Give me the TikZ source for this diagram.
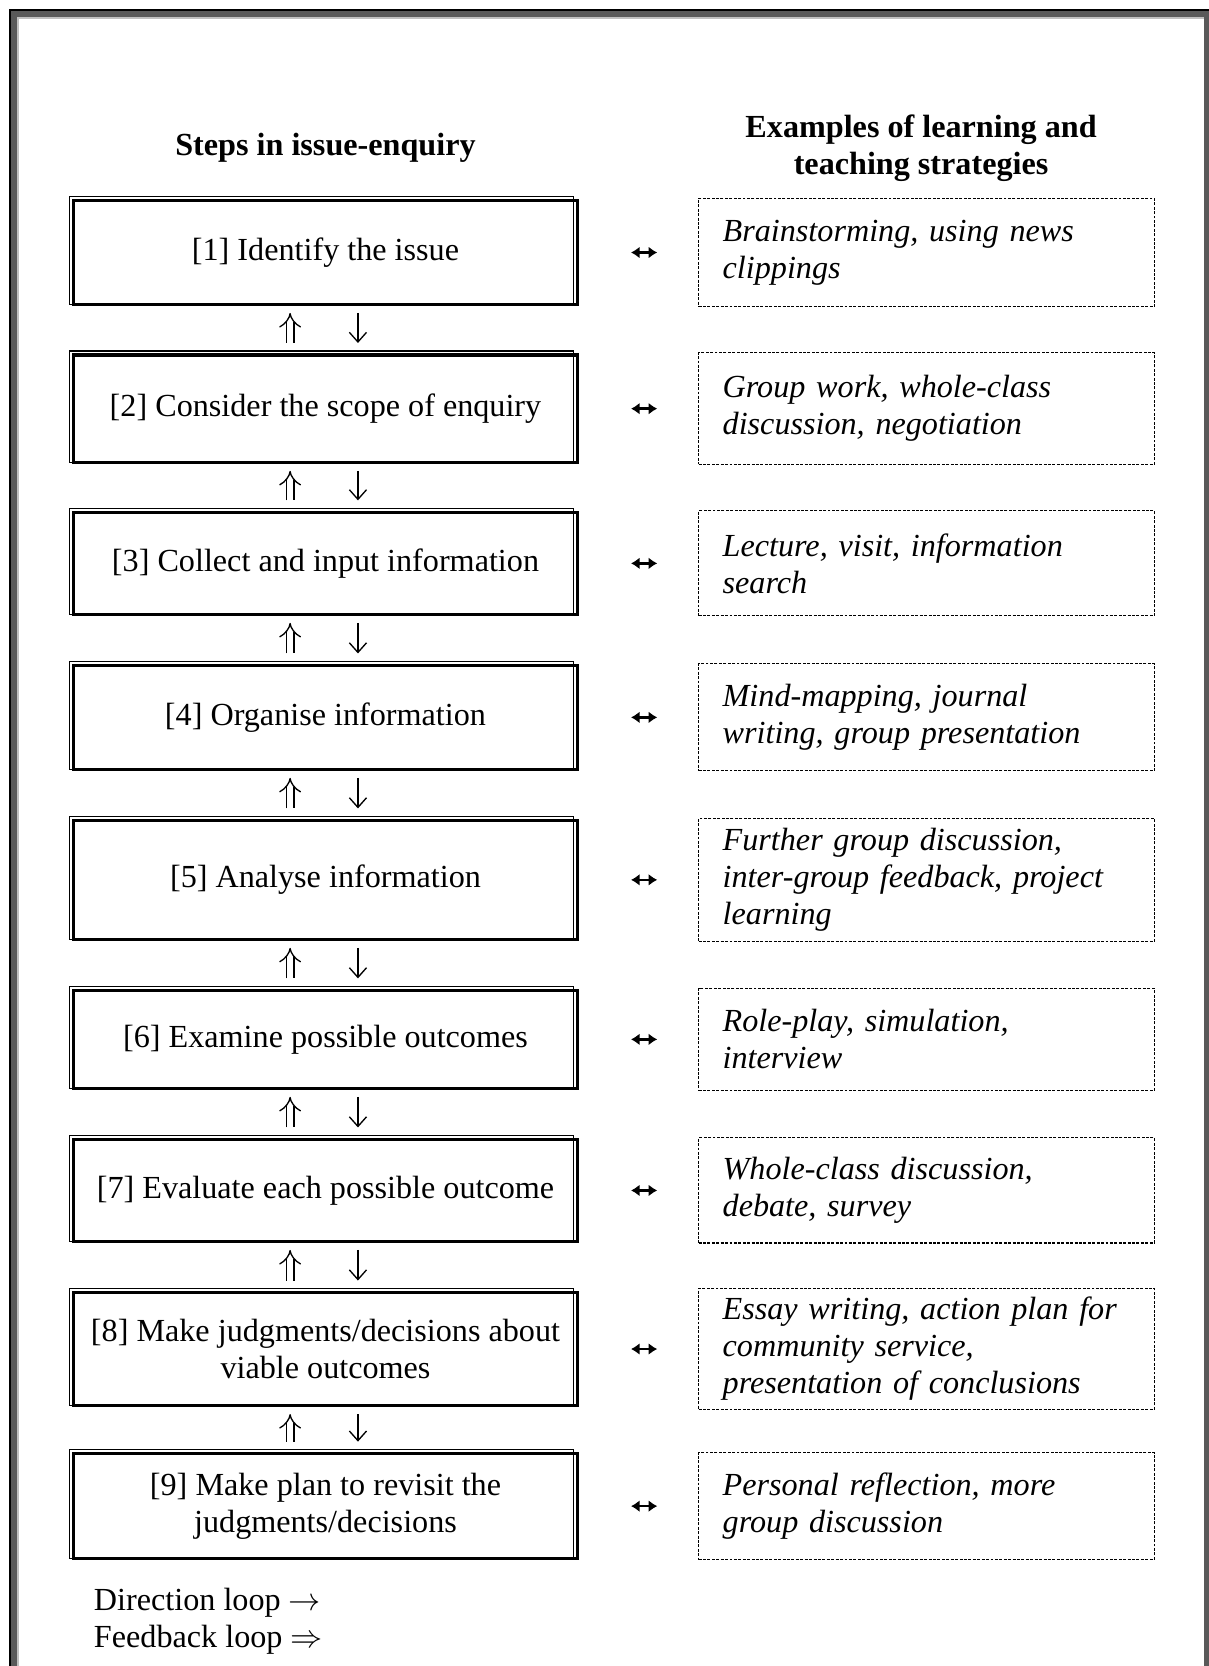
\documentclass[tikz,border=0pt]{standalone}
\usepackage{fontspec}
\setmainfont{Liberation Serif}
\usetikzlibrary{positioning, arrows.meta}

\definecolor{frameshade}{RGB}{89,89,89}
\definecolor{framelight}{RGB}{192,192,192}

\begin{document}
\begin{tikzpicture}[x=0.373pt, y=-0.373pt,
    stepbox/.style={draw, line width=1.2pt, outer sep=0pt, minimum width=187.9pt, align=center, font=\fontsize{12pt}{13.8pt}\selectfont,
        append after command={\pgfextra{\draw[line width=0.45pt] ([shift={(-1.5pt,1.5pt)}]\tikzlastnode.north west) rectangle ([xshift=-1.5pt]\tikzlastnode.south east);}}},
    ideabox/.style={draw, dash pattern=on 1.1pt off 0.55pt, line width=0.4pt, outer sep=0pt, minimum width=170pt, text width=152pt, inner xsep=9pt, align=left, font=\fontsize{12pt}{13.8pt}\selectfont\itshape},
    heading/.style={inner sep=0pt, align=center, font=\fontsize{12pt}{13.8pt}\selectfont\bfseries},
    pairing/.style={{Latex[length=3.2pt,width=4.4pt]}-{Latex[length=3.2pt,width=4.4pt]}, line width=1pt, shorten <=20pt, shorten >=15.4pt},
    dirloop/.style={-{Straight Barb[length=3.6pt,width=6.4pt]}, line width=0.5pt, shorten <=3.2pt, shorten >=4.5pt},
    fbloop/.style={double, double distance=2.4pt, line width=0.5pt, -{Implies}, shorten <=4.5pt, shorten >=3.2pt}]

    % Page frame
    \useasboundingbox (0,0) rectangle (1209,1666);
    \fill[black] (9,9) rectangle (1209,1700);
    \fill[frameshade] (11,11) rectangle (1209,1700);
    \fill[framelight] (17,17) rectangle (1204,1700);
    \fill[white] (19,19) rectangle (1204,1700);

    % Steps in issue-enquiry
    \node[stepbox, minimum height=38.7pt] (s1) at (325.5,252.5) {[1] Identify the issue};
    \node[stepbox, minimum height=40.0pt, below=18.9pt of s1] (s2) {[2] Consider the scope of enquiry};
    \node[stepbox, minimum height=38.0pt, below=18.7pt of s2] (s3) {[3] Collect and input information};
    \node[stepbox, minimum height=38.7pt, below=19.1pt of s3] (s4) {[4] Organise information};
    \node[stepbox, minimum height=44.3pt, below=19.1pt of s4] (s5) {[5] Analyse information};
    \node[stepbox, minimum height=36.5pt, below=19.1pt of s5] (s6) {[6] Examine possible outcomes};
    \node[stepbox, minimum height=38.0pt, below=19.1pt of s6] (s7) {[7] Evaluate each possible outcome};
    \node[stepbox, minimum height=42.1pt, below=19.1pt of s7] (s8) {[8] Make judgments/decisions about\\viable outcomes};
    \node[stepbox, minimum height=39.1pt, below=18.0pt of s8] (s9) {[9] Make plan to revisit the\\judgments/decisions};

    % Learning and teaching strategies
    \node[ideabox, minimum height=40.5pt, right=45.2pt of s1] (e1) {Brainstorming, using news\\clippings};
    \node[ideabox, minimum height=41.6pt, right=45.2pt of s2] (e2) {Group work, whole-class\\discussion, negotiation};
    \node[ideabox, minimum height=39.2pt, right=45.2pt of s3] (e3) {Lecture, visit, information\\search};
    \node[ideabox, minimum height=39.9pt, right=45.2pt of s4] (e4) {Mind-mapping, journal\\writing, group presentation};
    \node[ideabox, minimum height=45.9pt, right=45.2pt of s5] (e5) {Further group discussion,\\inter-group feedback, project\\learning};
    \node[ideabox, minimum height=38.0pt, right=45.2pt of s6] (e6) {Role-play, simulation,\\interview};
    \node[ideabox, minimum height=39.2pt, right=45.2pt of s7] (e7) {Whole-class discussion,\\debate, survey};
    \node[ideabox, minimum height=43.3pt, right=45.2pt of s8] (e8) {Essay writing, action plan for\\community service,\\presentation of conclusions};
    \node[ideabox, minimum height=39.9pt, right=45.2pt of s9] (e9) {Personal reflection, more\\group discussion};

    % Column headings
    \node[heading, above=13.9pt of s1] (stephead) {Steps in issue-enquiry};
    \node[heading, above=5.9pt of e1, xshift=-2pt] (ideahead) {Examples of learning and\\teaching strategies};

    % Key
    \node[anchor=north west, align=left, inner sep=0pt, font=\fontsize{12pt}{13.8pt}\selectfont] (loops) at ([xshift=7.4pt, yshift=-10.8pt]s9.south west) {Direction loop $\rightarrow$\\Feedback loop $\Rightarrow$};

    % Steps paired with strategies
    \draw[pairing] (s1.east) -- (e1.west);
    \draw[pairing] (s2.east) -- (e2.west);
    \draw[pairing] (s3.east) -- (e3.west);
    \draw[pairing] (s4.east) -- (e4.west);
    \draw[pairing] (s5.east) -- (e5.west);
    \draw[pairing] (s6.east) -- (e6.west);
    \draw[pairing] (s7.east) -- (e7.west);
    \draw[pairing] (s8.east) -- (e8.west);
    \draw[pairing] (s9.east) -- (e9.west);

    % Feedback loop (up) and direction loop (down)
    \draw[fbloop] ([xshift=-13.2pt]s2.north) -- ([xshift=-13.2pt]s1.south);
    \draw[dirloop] ([xshift=12.1pt]s1.south) -- ([xshift=12.1pt]s2.north);
    \draw[fbloop] ([xshift=-13.2pt]s3.north) -- ([xshift=-13.2pt]s2.south);
    \draw[dirloop] ([xshift=12.1pt]s2.south) -- ([xshift=12.1pt]s3.north);
    \draw[fbloop] ([xshift=-13.2pt]s4.north) -- ([xshift=-13.2pt]s3.south);
    \draw[dirloop] ([xshift=12.1pt]s3.south) -- ([xshift=12.1pt]s4.north);
    \draw[fbloop] ([xshift=-13.2pt]s5.north) -- ([xshift=-13.2pt]s4.south);
    \draw[dirloop] ([xshift=12.1pt]s4.south) -- ([xshift=12.1pt]s5.north);
    \draw[fbloop] ([xshift=-13.2pt]s6.north) -- ([xshift=-13.2pt]s5.south);
    \draw[dirloop] ([xshift=12.1pt]s5.south) -- ([xshift=12.1pt]s6.north);
    \draw[fbloop] ([xshift=-13.2pt]s7.north) -- ([xshift=-13.2pt]s6.south);
    \draw[dirloop] ([xshift=12.1pt]s6.south) -- ([xshift=12.1pt]s7.north);
    \draw[fbloop] ([xshift=-13.2pt]s8.north) -- ([xshift=-13.2pt]s7.south);
    \draw[dirloop] ([xshift=12.1pt]s7.south) -- ([xshift=12.1pt]s8.north);
    \draw[fbloop] ([xshift=-13.2pt]s9.north) -- ([xshift=-13.2pt]s8.south);
    \draw[dirloop] ([xshift=12.1pt]s8.south) -- ([xshift=12.1pt]s9.north);
\end{tikzpicture}
\end{document}
